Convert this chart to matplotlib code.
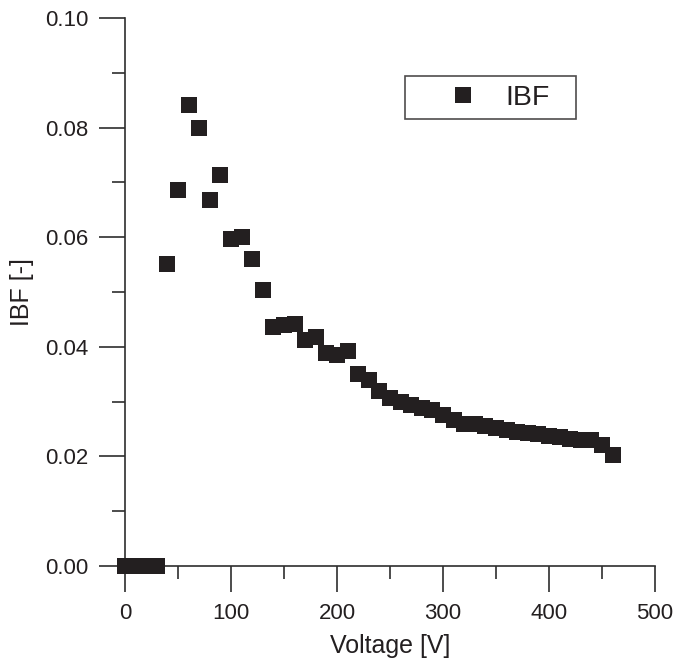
import matplotlib
matplotlib.use("Agg")
import matplotlib.pyplot as plt
from matplotlib.ticker import MultipleLocator, FormatStrFormatter

plt.rcParams['font.family'] = ['Liberation Sans', 'DejaVu Sans']

voltage = [0, 10, 20, 30, 40, 50, 60, 70, 80, 90, 100, 110, 120, 130, 140, 150,
           160, 170, 180, 190, 200, 210, 220, 230, 240, 250, 260, 270, 280, 290,
           300, 310, 320, 330, 340, 350, 360, 370, 380, 390, 400, 410, 420, 430,
           440, 450, 460]
ibf = [0.0, 0.0, 0.0, 0.0, 0.0552, 0.0686, 0.0841, 0.0799, 0.0667, 0.0714,
       0.0597, 0.0600, 0.0560, 0.0504, 0.0437, 0.0439, 0.0441, 0.0413, 0.0418,
       0.0388, 0.0385, 0.0392, 0.0350, 0.0340, 0.0319, 0.0306, 0.0299, 0.0294,
       0.0289, 0.0285, 0.0276, 0.0266, 0.0259, 0.0259, 0.0255, 0.0252, 0.0248,
       0.0245, 0.0243, 0.0241, 0.0237, 0.0236, 0.0231, 0.0230, 0.0230, 0.0220,
       0.0202]

ink = '#231f20'
axc = '#2e2e2e'

fig = plt.figure(figsize=(6.76, 6.59), dpi=100)
ax = fig.add_axes([125/676, (659-566)/659, 530/676, 548/659])

ax.plot(voltage, ibf, linestyle='none', marker='s', markersize=11.5,
        color=ink, markeredgewidth=0, clip_on=False, zorder=3, label='IBF')

ax.set_xlim(0, 500)
ax.set_ylim(0, 0.10)
ax.spines['top'].set_visible(False)
ax.spines['right'].set_visible(False)
for s in ('left', 'bottom'):
    ax.spines[s].set_color(axc)
    ax.spines[s].set_linewidth(1.2)

ax.xaxis.set_major_locator(MultipleLocator(100))
ax.xaxis.set_minor_locator(MultipleLocator(50))
ax.yaxis.set_major_locator(MultipleLocator(0.02))
ax.yaxis.set_minor_locator(MultipleLocator(0.01))
ax.yaxis.set_major_formatter(FormatStrFormatter('%.2f'))

ax.tick_params(which='major', length=18.5, width=1.2, color=axc,
               labelsize=16, labelcolor=ink, pad=8, direction='out')
ax.tick_params(which='minor', length=9.5, width=1.2, color=axc, direction='out')

ax.set_xlabel('Voltage [V]', fontsize=18, color=ink, labelpad=7)
ax.set_ylabel('IBF [-]', fontsize=18, color=ink, labelpad=8)

leg = ax.legend(loc='upper left', bbox_to_anchor=(0.528, 0.8046, 0.3226, 0.0894),
                mode='expand', borderaxespad=0, fontsize=20.5, frameon=True,
                fancybox=False, edgecolor=ink, handlelength=3.47,
                handletextpad=-0.25, borderpad=0.3, markerscale=1.0)
leg.get_frame().set_linewidth(1.2)
for t in leg.get_texts():
    t.set_color(ink)

fig.savefig('out.png', dpi=100)
